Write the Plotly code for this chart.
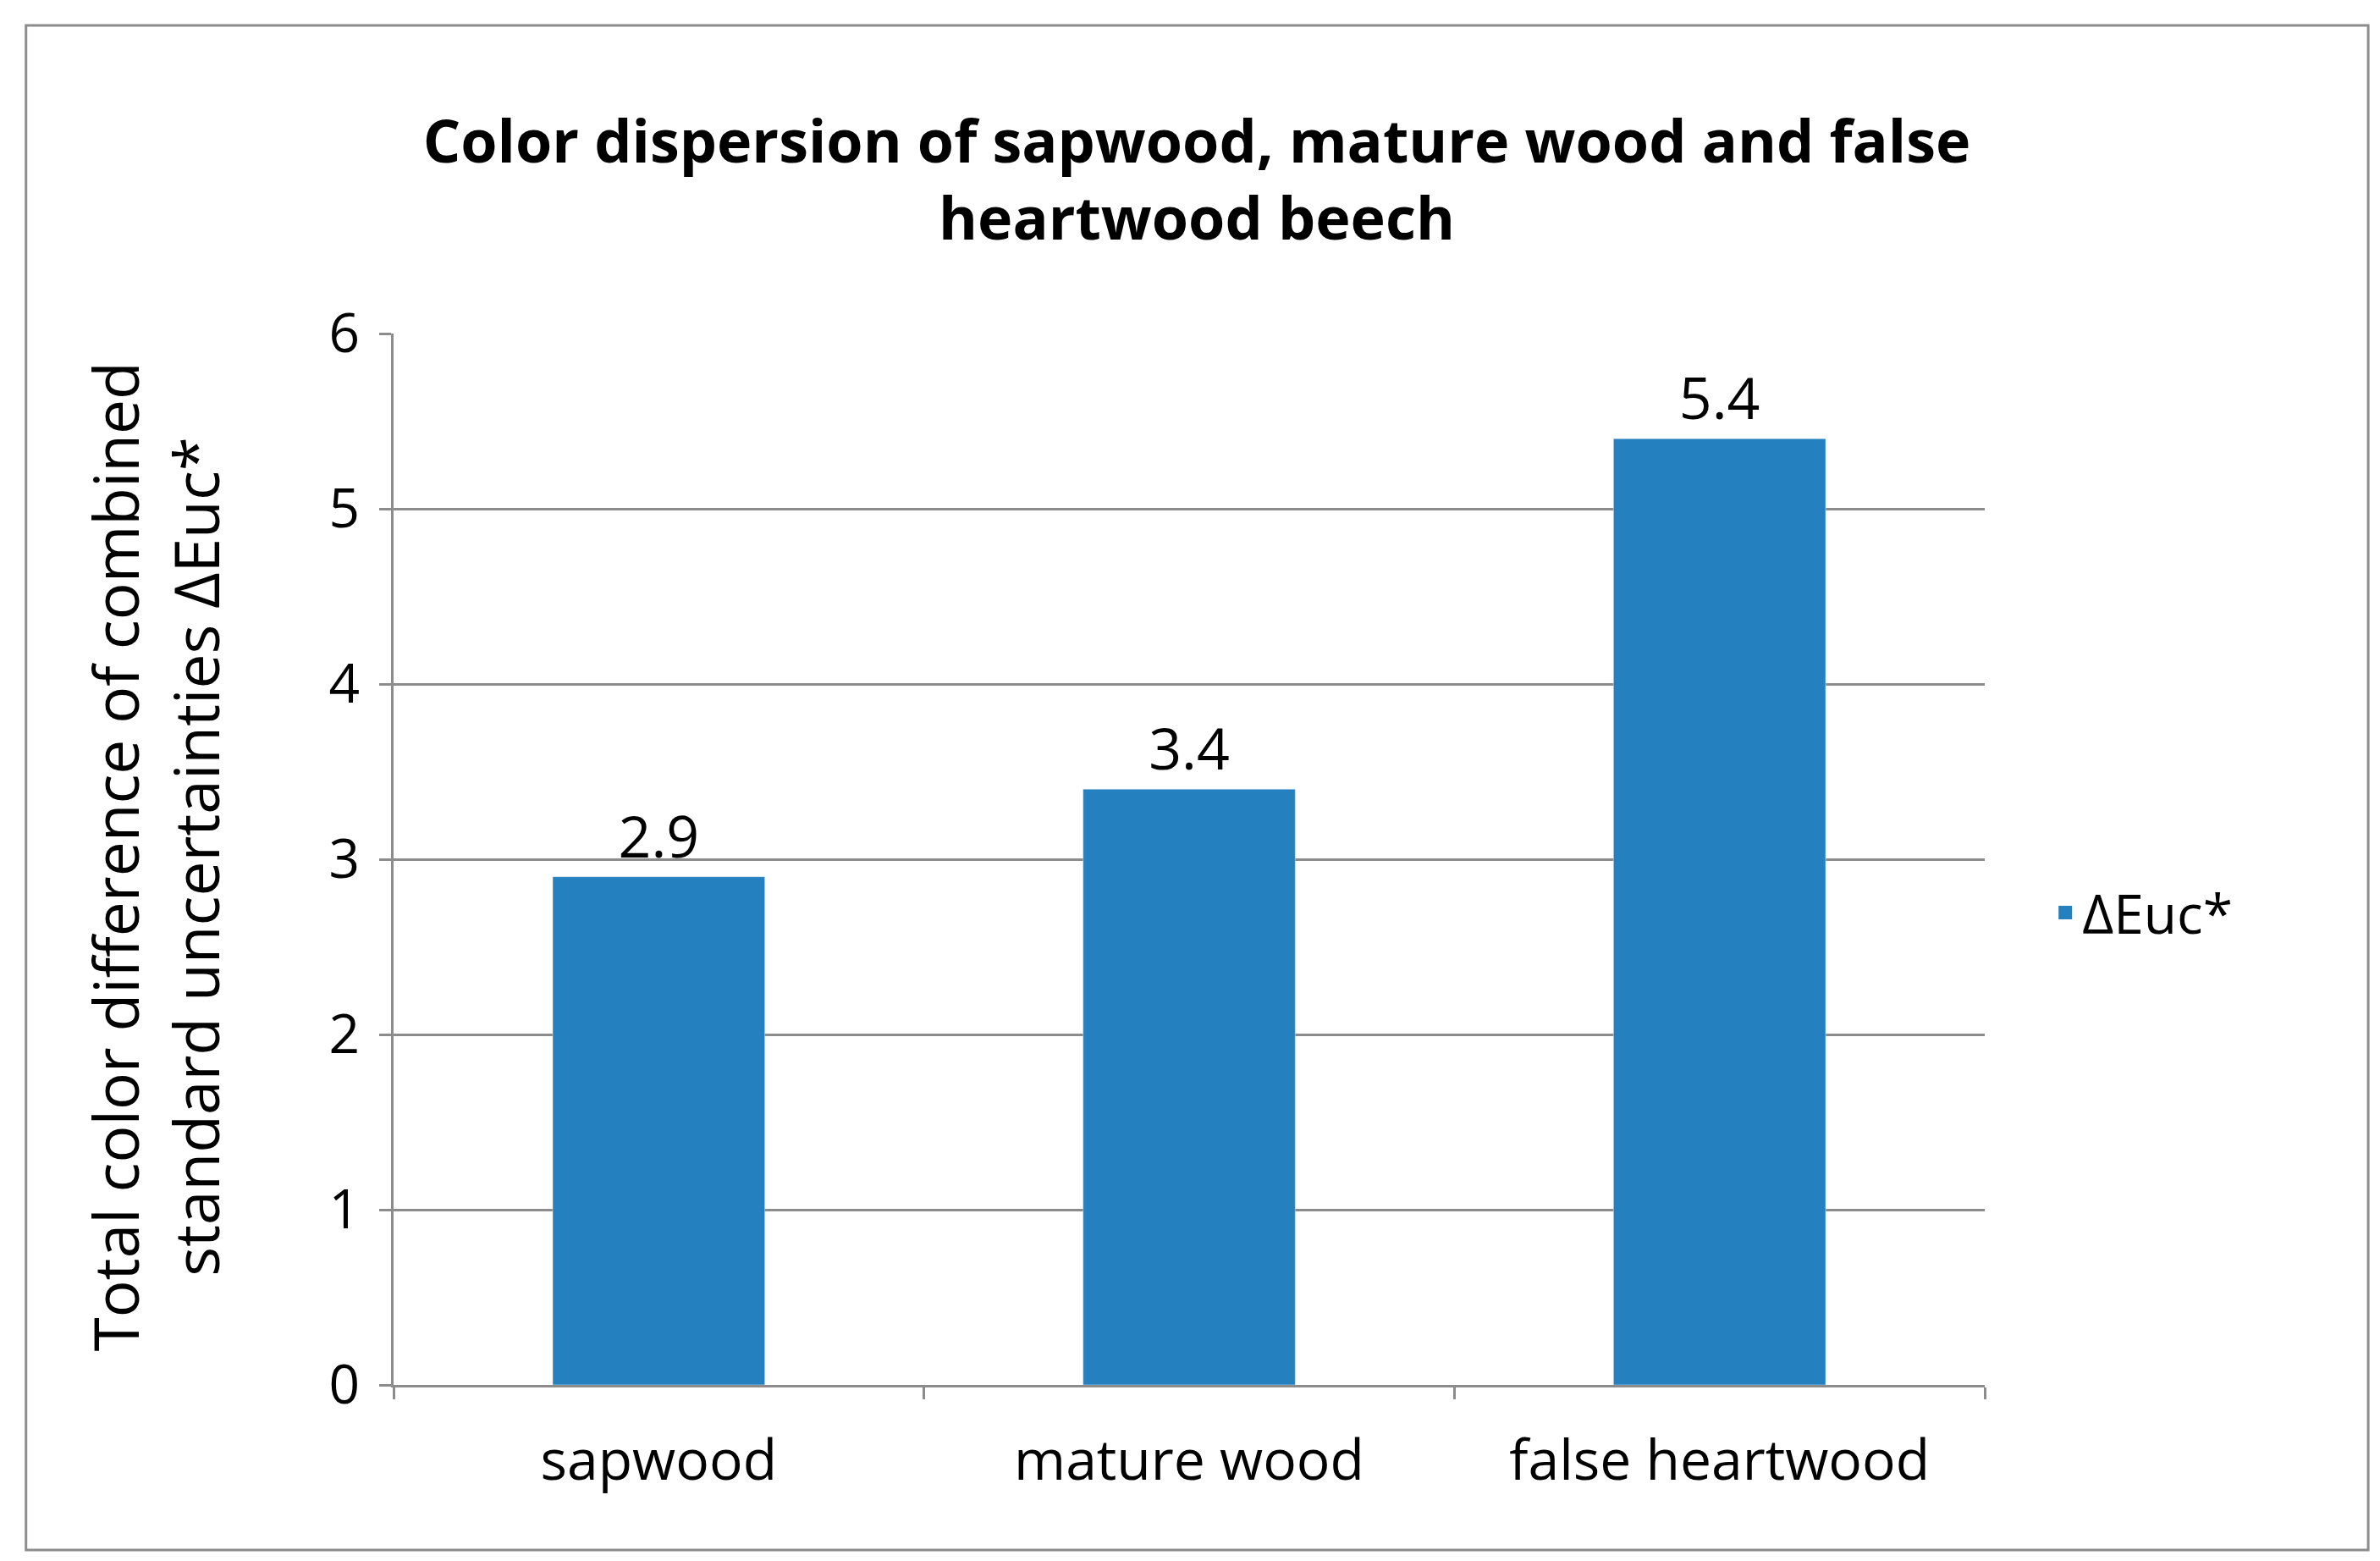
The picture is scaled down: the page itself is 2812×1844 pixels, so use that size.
import plotly.graph_objects as go

categories = ["sapwood", "mature wood", "false heartwood"]
values = [2.9, 3.4, 5.4]
labels = ["2.9", "3.4", "5.4"]
series_name = "ΔEuc*"

F = "Open Sans"
C = "#2580BF"
fig = go.Figure(go.Bar(x=categories, y=values, name=series_name, width=0.4, showlegend=False,
                       marker_color=C, text=labels, textposition="outside",
                       textfont=dict(size=68, color="black", family=F), cliponaxis=False))
fig.add_trace(go.Scatter(x=[None], y=[None], mode="markers", name=series_name,
                         marker=dict(symbol="square", size=40, color=C)))
fig.update_layout(
    width=2812, height=1844, paper_bgcolor="white", plot_bgcolor="white",
    margin=dict(l=457, r=475, t=386, b=216),
    font=dict(family=F, color="black"),
    title=dict(text="<b>Color dispersion of sapwood, mature wood and false<br>heartwood beech</b>",
               x=0.5, xanchor="center", y=0.9, yanchor="middle", yref="container",
               font=dict(size=70, family=F)),
    showlegend=True,
    legend=dict(x=1.04, y=0.449, yanchor="middle", font=dict(size=64, family=F)),
    bargap=0.6,
)
fig.update_yaxes(range=[0, 6], dtick=1, showgrid=True, gridcolor="#8C8C8C", gridwidth=3,
                 showline=True, linecolor="#8C8C8C", linewidth=3, ticks="outside",
                 ticklen=14, tickcolor="#8C8C8C", tickwidth=3, ticklabelstandoff=10,
                 tickfont=dict(size=64, family=F), zeroline=False)
fig.update_xaxes(showline=True, linecolor="#8C8C8C", linewidth=3, ticks="outside",
                 tickson="boundaries", ticklen=14, tickcolor="#8C8C8C", tickwidth=3,
                 ticklabelstandoff=30, tickfont=dict(size=66, family=F))
fig.add_annotation(text="Total color difference of combined<br>standard uncertainties ΔEuc*",
                   textangle=-90, xref="paper", yref="paper", x=-0.15, y=0.502,
                   xanchor="center", yanchor="middle",
                   showarrow=False, font=dict(size=73, family=F))
fig.add_shape(type="rect", xref="paper", yref="paper", x0=-0.231, x1=1.241, y0=-0.157, y1=1.293,
              line=dict(color="#8C8C8C", width=3))
fig.write_html("out.html")
